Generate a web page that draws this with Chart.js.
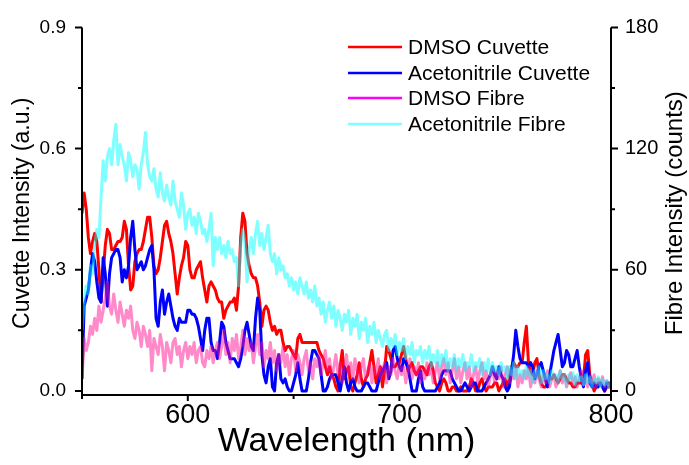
<!DOCTYPE html>
<html lang="en">
<head>
<meta charset="UTF-8">
<title>Cuvette and Fibre Intensity</title>
<style>
    html, body { margin: 0; padding: 0; background: #fff; }
    .chart-container { width: 689px; height: 465px; }
</style>
</head>
<body>
<div class="chart-container"><canvas id="myChart" width="689" height="465"></canvas></div>

<script src="https://cdn.jsdelivr.net/npm/chart.js"></script>
<script>
    // Wavelength grid, 1 nm steps from 550 to 800
    const wavelength = [];
    for (let w = 550; w <= 800; w++) wavelength.push(w);

    const seriesNames = ['DMSO Cuvette', 'Acetonitrile Cuvette', 'DMSO Fibre', 'Acetonitrile Fibre'];

    // Cuvette intensity (a.u.), left axis
    const dmsoCuvette = [
        0.44, 0.49, 0.45, 0.38, 0.34, 0.37, 0.39, 0.37, 0.30, 0.22, // 550
        0.29, 0.36, 0.40, 0.39, 0.35, 0.35, 0.36, 0.37, 0.37, 0.38, // 560
        0.42, 0.40, 0.31, 0.25, 0.26, 0.32, 0.34, 0.35, 0.35, 0.37, // 570
        0.40, 0.43, 0.43, 0.38, 0.31, 0.29, 0.30, 0.33, 0.37, 0.41, // 580
        0.42, 0.39, 0.37, 0.34, 0.29, 0.24, 0.28, 0.31, 0.33, 0.37, // 590
        0.36, 0.30, 0.28, 0.28, 0.30, 0.31, 0.32, 0.28, 0.25, 0.22, // 600
        0.26, 0.27, 0.26, 0.25, 0.23, 0.22, 0.22, 0.18, 0.20, 0.21, // 610
        0.22, 0.22, 0.23, 0.20, 0.26, 0.38, 0.44, 0.42, 0.34, 0.31, // 620
        0.29, 0.28, 0.28, 0.26, 0.22, 0.16, 0.20, 0.21, 0.20, 0.17, // 630
        0.15, 0.16, 0.14, 0.15, 0.15, 0.12, 0.10, 0.11, 0.11, 0.10, // 640
        0.09, 0.08, 0.13, 0.14, 0.12, 0.12, 0.12, 0.12, 0.12, 0.12, // 650
        0.12, 0.12, 0.10, 0.09, 0.08, 0.06, 0.04, 0.06, 0.04, 0.03, // 660
        0.01, 0.00, 0.06, 0.10, 0.03, 0.05, 0.06, 0.01, 0.00, 0.02, // 670
        0.04, 0.07, 0.03, 0.01, 0.03, 0.04, 0.07, 0.10, 0.06, 0.02, // 680
        0.04, 0.06, 0.01, 0.05, 0.11, 0.10, 0.08, 0.06, 0.06, 0.07, // 690
        0.07, 0.09, 0.11, 0.08, 0.05, 0.06, 0.07, 0.05, 0.04, 0.05, // 700
        0.06, 0.06, 0.05, 0.04, 0.06, 0.07, 0.05, 0.02, 0.01, 0.00, // 710
        0.02, 0.03, 0.02, 0.00, 0.00, 0.01, 0.01, 0.00, 0.00, 0.01, // 720
        0.00, 0.00, 0.00, 0.01, 0.03, 0.02, 0.00, 0.00, 0.02, 0.03, // 730
        0.01, 0.00, 0.01, 0.01, 0.01, 0.02, 0.02, 0.00, 0.01, 0.02, // 740
        0.03, 0.01, 0.03, 0.06, 0.07, 0.06, 0.06, 0.07, 0.07, 0.12, // 750
        0.16, 0.07, 0.05, 0.04, 0.07, 0.08, 0.04, 0.02, 0.01, 0.01, // 760
        0.02, 0.03, 0.03, 0.04, 0.03, 0.02, 0.03, 0.04, 0.04, 0.03, // 770
        0.02, 0.02, 0.01, 0.01, 0.02, 0.02, 0.02, 0.03, 0.09, 0.10, // 780
        0.04, 0.02, 0.00, 0.01, 0.02, 0.02, 0.01, 0.00, 0.01, 0.01, // 790
        0.01
    ];

    const acetonitrileCuvette = [
        0.03, 0.21, 0.23, 0.25, 0.30, 0.34, 0.32, 0.27, 0.23, 0.22, // 550
        0.33, 0.29, 0.21, 0.29, 0.33, 0.34, 0.35, 0.35, 0.33, 0.27, // 560
        0.30, 0.28, 0.31, 0.38, 0.42, 0.35, 0.30, 0.31, 0.32, 0.30, // 570
        0.31, 0.33, 0.35, 0.36, 0.30, 0.18, 0.16, 0.22, 0.25, 0.19, // 580
        0.22, 0.24, 0.21, 0.18, 0.16, 0.15, 0.18, 0.17, 0.17, 0.17, // 590
        0.20, 0.20, 0.19, 0.19, 0.18, 0.16, 0.13, 0.10, 0.15, 0.18, // 600
        0.18, 0.12, 0.10, 0.10, 0.08, 0.12, 0.17, 0.16, 0.12, 0.10, // 610
        0.08, 0.08, 0.08, 0.07, 0.06, 0.08, 0.11, 0.15, 0.17, 0.14, // 620
        0.11, 0.10, 0.18, 0.23, 0.20, 0.09, 0.04, 0.02, 0.06, 0.08, // 630
        0.01, 0.00, 0.07, 0.09, 0.03, 0.02, 0.03, 0.01, 0.00, 0.00, // 640
        0.02, 0.04, 0.07, 0.03, 0.00, 0.00, 0.00, 0.03, 0.07, 0.10, // 650
        0.10, 0.09, 0.08, 0.04, 0.00, 0.00, 0.01, 0.03, 0.04, 0.04, // 660
        0.04, 0.02, 0.00, 0.03, 0.06, 0.02, 0.00, 0.02, 0.03, 0.01, // 670
        0.00, 0.00, 0.00, 0.01, 0.02, 0.02, 0.01, 0.00, 0.00, 0.00, // 680
        0.02, 0.04, 0.05, 0.06, 0.07, 0.03, 0.05, 0.10, 0.11, 0.08, // 690
        0.06, 0.05, 0.08, 0.07, 0.06, 0.03, 0.00, 0.00, 0.00, 0.03, // 700
        0.05, 0.01, 0.00, 0.00, 0.00, 0.00, 0.00, 0.00, 0.01, 0.02, // 710
        0.04, 0.05, 0.05, 0.05, 0.05, 0.03, 0.02, 0.01, 0.00, 0.00, // 720
        0.01, 0.02, 0.01, 0.00, 0.01, 0.02, 0.02, 0.00, 0.00, 0.00, // 730
        0.01, 0.02, 0.03, 0.04, 0.06, 0.04, 0.03, 0.06, 0.04, 0.03, // 740
        0.01, 0.00, 0.01, 0.05, 0.09, 0.15, 0.11, 0.08, 0.07, 0.07, // 750
        0.07, 0.06, 0.07, 0.06, 0.03, 0.04, 0.06, 0.07, 0.05, 0.03, // 760
        0.01, 0.04, 0.07, 0.10, 0.12, 0.14, 0.10, 0.06, 0.07, 0.10, // 770
        0.09, 0.06, 0.06, 0.08, 0.10, 0.06, 0.03, 0.01, 0.05, 0.07, // 780
        0.02, 0.01, 0.02, 0.01, 0.01, 0.02, 0.01, 0.00, 0.02, 0.02, // 790
        0.01
    ];

    // Fibre intensity (counts), right axis
    const dmsoFibre = [
        6, 26, 20, 24, 32, 28, 36, 30, 42, 34,   // 550
        40, 46, 54, 42, 38, 48, 40, 34, 44, 38,  // 560
        32, 40, 36, 42, 30, 26, 34, 30, 22, 32,  // 570
        28, 22, 30, 10, 26, 22, 18, 28, 22, 10,  // 580
        24, 20, 14, 24, 26, 18, 22, 12, 20, 24,  // 590
        16, 22, 18, 24, 14, 20, 22, 14, 12, 20,  // 600
        16, 22, 14, 20, 24, 16, 22, 30, 18, 24,  // 610
        14, 26, 20, 28, 16, 22, 30, 18, 26, 20,  // 620
        24, 14, 22, 28, 18, 24, 12, 20, 16, 24,  // 630
        14, 20, 10, 18, 14, 22, 12, 18, 8, 16,   // 640
        20, 10, 18, 14, 8, 16, 20, 10, 14, 6,    // 650
        16, 12, 18, 8, 14, 20, 10, 16, 6, 12,    // 660
        18, 8, 14, 4, 12, 18, 8, 14, 6, 16,      // 670
        10, 4, 12, 16, 6, 10, 14, 4, 12, 8,      // 680
        16, 6, 10, 14, 4, 12, 8, 16, 10, 6,      // 690
        14, 8, 12, 4, 10, 16, 6, 12, 8, 14,      // 700
        4, 10, 6, 14, 8, 12, 4, 10, 14, 6,       // 710
        12, 16, 8, 14, 4, 10, 16, 6, 12, 4,      // 720
        10, 14, 6, 12, 2, 8, 12, 4, 10, 14,      // 730
        6, 10, 2, 8, 12, 4, 10, 6, 12, 2,        // 740
        8, 12, 4, 10, 6, 12, 2, 8, 4, 10,        // 750
        6, 12, 2, 8, 4, 10, 6, 2, 8, 4,          // 760
        10, 2, 6, 8, 2, 6, 10, 4, 8, 2,          // 770
        6, 9, 3, 7, 2, 6, 10, 3, 7, 2,           // 780
        6, 4, 8, 2, 6, 3, 7, 2, 5, 3,            // 790
        4
    ];

    const acetonitrileFibre = [
        30, 44, 52, 48, 62, 58, 72, 80, 76, 96,          // 550
        114, 104, 116, 120, 112, 124, 132, 112, 122, 116, // 560
        112, 104, 118, 114, 106, 112, 110, 100, 112, 118, // 570
        128, 112, 106, 104, 110, 100, 96, 108, 98, 94,    // 580
        102, 96, 92, 104, 94, 90, 86, 98, 92, 80,         // 590
        88, 90, 82, 86, 78, 88, 84, 78, 80, 74,           // 600
        80, 88, 62, 76, 70, 76, 68, 72, 66, 74,           // 610
        68, 70, 64, 66, 52, 72, 80, 74, 54, 70,           // 620
        76, 68, 78, 84, 72, 78, 70, 76, 82, 68,           // 630
        64, 68, 58, 66, 60, 62, 56, 58, 52, 56,           // 640
        50, 54, 48, 56, 52, 48, 54, 46, 50, 44,           // 650
        52, 42, 46, 38, 44, 34, 40, 44, 36, 42,           // 660
        32, 40, 36, 30, 38, 34, 40, 28, 36, 32,           // 670
        38, 26, 34, 30, 36, 24, 32, 28, 34, 24,           // 680
        30, 26, 22, 28, 30, 20, 26, 22, 28, 18,           // 690
        24, 20, 26, 16, 22, 18, 24, 14, 20, 18,           // 700
        22, 14, 20, 16, 22, 12, 18, 14, 20, 12,           // 710
        18, 14, 20, 10, 16, 12, 18, 10, 16, 12,           // 720
        18, 10, 14, 12, 18, 10, 14, 12, 16, 8,            // 730
        14, 10, 16, 8, 14, 10, 12, 8, 14, 10,             // 740
        12, 6, 12, 8, 14, 6, 12, 8, 10, 6,                // 750
        12, 8, 10, 4, 10, 6, 12, 4, 10, 6,                // 760
        8, 4, 10, 6, 8, 4, 10, 6, 8, 3,                   // 770
        8, 6, 9, 3, 8, 5, 7, 3, 8, 4,                     // 780
        7, 2, 6, 4, 7, 2, 6, 3, 5, 2,                     // 790
        4
    ];

    // Tick values
    const xTickLabels = [600, 700, 800];
    const xMinorTicks = [550, 650, 750];
    const leftTickLabels = [0, 0.3, 0.6, 0.9];
    const leftMinorTicks = [0.15, 0.45, 0.75];
    const rightTickLabels = [0, 60, 120, 180];
    const rightMinorTicks = [30, 90, 150];

    const fontFamily = '"Liberation Sans", Arial, sans-serif';

    function toPoints(values) {
        return wavelength.map((w, i) => ({ x: w, y: values[i] }));
    }

    // Draw axis lines and major / minor tick marks
    const axesFrame = {
        id: 'axesFrame',
        afterDatasetsDraw(chart) {
            const { ctx, chartArea: a, scales } = chart;
            ctx.save();
            ctx.strokeStyle = '#000';
            ctx.lineWidth = 2;
            ctx.beginPath();
            ctx.moveTo(a.left, a.top);
            ctx.lineTo(a.left, a.bottom + 3);
            ctx.moveTo(a.right, a.top);
            ctx.lineTo(a.right, a.bottom + 3);
            ctx.moveTo(a.left - 1, a.bottom);
            ctx.lineTo(a.right + 1, a.bottom);

            leftTickLabels.concat(leftMinorTicks).forEach((v) => {
                const y = scales.y.getPixelForValue(v);
                const len = leftTickLabels.includes(v) ? 7 : 4;
                ctx.moveTo(a.left, y);
                ctx.lineTo(a.left - len, y);
            });
            rightTickLabels.concat(rightMinorTicks).forEach((v) => {
                const y = scales.y1.getPixelForValue(v);
                const len = rightTickLabels.includes(v) ? 7 : 4;
                ctx.moveTo(a.right, y);
                ctx.lineTo(a.right + len, y);
            });
            xTickLabels.concat(xMinorTicks).forEach((v) => {
                const x = scales.x.getPixelForValue(v);
                const len = xTickLabels.includes(v) ? 6 : 4;
                ctx.moveTo(x, a.bottom);
                ctx.lineTo(x, a.bottom + len);
            });
            ctx.stroke();
            ctx.restore();
        },
        afterDraw(chart) {
            const { ctx, chartArea: a } = chart;
            const midY = (a.top + a.bottom) / 2 + 2;
            ctx.save();
            ctx.fillStyle = '#000';
            ctx.textAlign = 'center';
            ctx.textBaseline = 'middle';

            // Axis titles (both side titles read bottom to top)
            ctx.font = '23px ' + fontFamily;
            ctx.save();
            ctx.translate(23, midY);
            ctx.rotate(-Math.PI / 2);
            ctx.fillText('Cuvette Intensity (a.u.)', 0, 0);
            ctx.restore();

            ctx.font = '24px ' + fontFamily;
            ctx.save();
            ctx.translate(675, midY);
            ctx.rotate(-Math.PI / 2);
            ctx.fillText('Fibre Intensity (counts)', 0, 0);
            ctx.restore();

            ctx.font = '34px ' + fontFamily;
            ctx.fillText('Wavelength (nm)', (a.left + a.right) / 2, 442);

            // Legend
            const legendColors = ['#ff0000', '#0000ff', '#ff00ff', 'rgba(0,255,255,0.5)'];
            const rowY = [47, 73, 98, 124];
            ctx.font = '21px ' + fontFamily;
            ctx.textAlign = 'left';
            seriesNames.forEach((name, i) => {
                ctx.strokeStyle = legendColors[i];
                ctx.lineWidth = 2.5;
                ctx.beginPath();
                ctx.moveTo(a.left + 266, rowY[i]);
                ctx.lineTo(a.left + 320, rowY[i]);
                ctx.stroke();
                ctx.fillText(name, a.left + 326, rowY[i] + 1);
            });
            ctx.restore();
        }
    };

    const ctx = document.getElementById('myChart');
    const myChart = new Chart(ctx, {
        type: 'line',
        data: {
            datasets: [
                {
                    label: seriesNames[0],
                    data: toPoints(dmsoCuvette),
                    yAxisID: 'y',
                    borderColor: '#ff0000',
                    order: 3
                },
                {
                    label: seriesNames[1],
                    data: toPoints(acetonitrileCuvette),
                    yAxisID: 'y',
                    borderColor: '#0000ff',
                    order: 2
                },
                {
                    label: seriesNames[2],
                    data: toPoints(dmsoFibre),
                    yAxisID: 'y1',
                    borderColor: 'rgba(255,20,147,0.5)',
                    order: 1
                },
                {
                    label: seriesNames[3],
                    data: toPoints(acetonitrileFibre),
                    yAxisID: 'y1',
                    borderColor: 'rgba(0,255,255,0.5)',
                    order: 0
                }
            ]
        },
        options: {
            responsive: false,
            animation: false,
            layout: { padding: { top: 25, left: 0, right: 0, bottom: 0 } },
            elements: {
                line: { borderWidth: 3, tension: 0, fill: false, borderJoinStyle: 'round' },
                point: { radius: 0 }
            },
            plugins: {
                legend: { display: false },
                tooltip: { enabled: false }
            },
            scales: {
                x: {
                    type: 'linear',
                    min: 550,
                    max: 800,
                    grid: { display: false, drawTicks: false },
                    border: { display: false },
                    afterBuildTicks: (scale) => { scale.ticks = xTickLabels.map((v) => ({ value: v })); },
                    afterFit: (scale) => { scale.height = 70; },
                    ticks: {
                        color: '#000',
                        font: { family: fontFamily, size: 27 },
                        padding: 4,
                        maxRotation: 0,
                        autoSkip: false
                    }
                },
                y: {
                    position: 'left',
                    min: -0.01,
                    max: 0.9,
                    grid: { display: false, drawTicks: false },
                    border: { display: false },
                    afterBuildTicks: (scale) => { scale.ticks = leftTickLabels.map((v) => ({ value: v })); },
                    afterFit: (scale) => { scale.width = 82; },
                    ticks: {
                        color: '#000',
                        font: { family: fontFamily, size: 19 },
                        padding: 16,
                        callback: (v) => v.toFixed(1)
                    }
                },
                y1: {
                    position: 'right',
                    min: -2,
                    max: 180,
                    grid: { display: false, drawTicks: false },
                    border: { display: false },
                    afterBuildTicks: (scale) => { scale.ticks = rightTickLabels.map((v) => ({ value: v })); },
                    afterFit: (scale) => { scale.width = 78; },
                    ticks: {
                        color: '#000',
                        font: { family: fontFamily, size: 20 },
                        padding: 14
                    }
                }
            }
        },
        plugins: [axesFrame]
    });
</script>
</body>
</html>
